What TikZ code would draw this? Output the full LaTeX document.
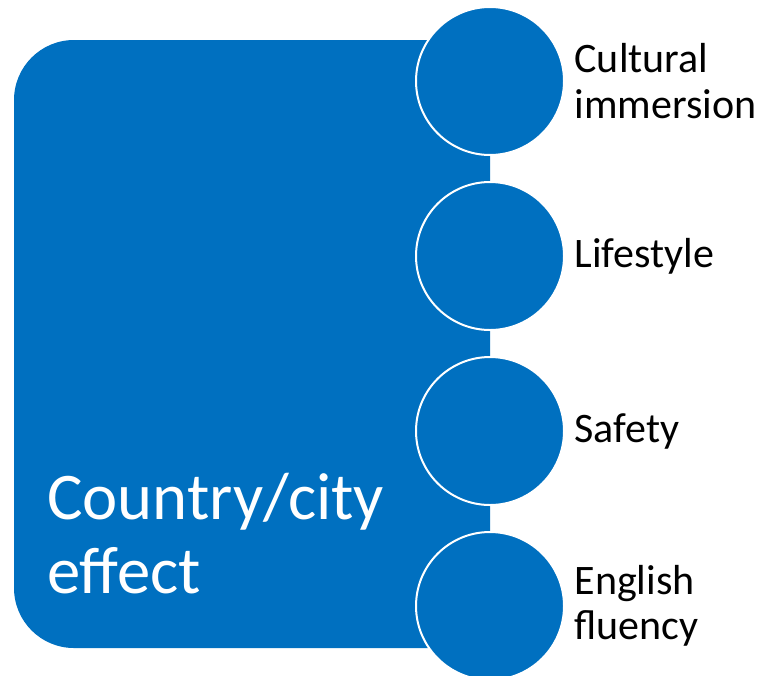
\documentclass[tikz,border=0pt]{standalone}
\usepackage{fontspec}
\setmainfont{Carlito}
\usepackage{tikz}
\usetikzlibrary{positioning}
\definecolor{officeblue}{RGB}{0,112,192}

\begin{document}
\begin{tikzpicture}[x=0.75pt,y=-0.75pt,
    panel/.style={fill=officeblue,rounded corners=45pt},
    bubble/.style={circle,fill=officeblue,draw=white,line width=1.5pt,
                   minimum size=111pt,inner sep=0pt},
    item/.style={inner sep=0pt,align=left,font=\fontsize{31.5}{34}\selectfont}]
          \useasboundingbox (0,0) rectangle (762,675);
          \fill[panel] (14,40) rectangle (490,648);
          \node[anchor=base west,inner sep=0pt,align=left,text=white,
                font=\fontsize{50}{55}\selectfont] (effect) at (47,593)
                {Country/city\\effect};
          \node[bubble] (c1) at (490,81) {};
          \node[bubble] (c2) at (490,256) {};
          \node[bubble] (c3) at (490,431) {};
          \node[bubble] (c4) at (490,606) {};
          \node[item, right=7pt of c1] (culture) {Cultural\\immersion};
          \node[item, right=7pt of c2] (life) {Lifestyle};
          \node[item, right=7pt of c3] (safe) {Safety};
          \node[item, right=7pt of c4] (english) {English\\fluency};
        \end{tikzpicture}
\end{document}
